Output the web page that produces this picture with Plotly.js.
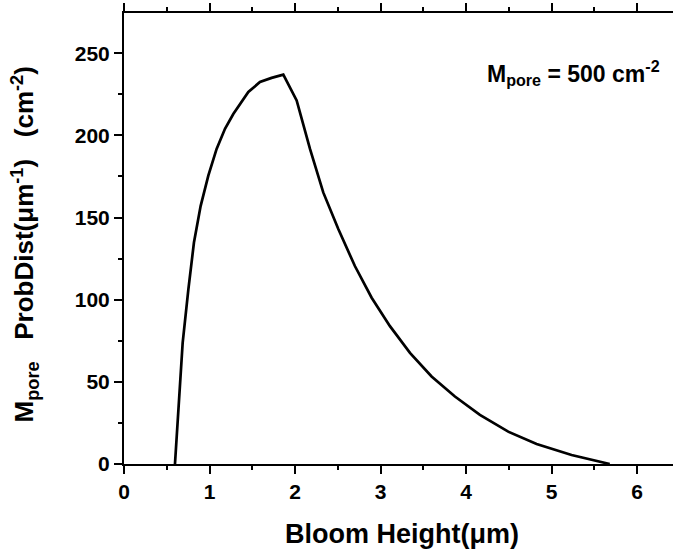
<!DOCTYPE html>
<html>
<head>
<meta charset="utf-8">
<script src="https://cdn.plot.ly/plotly-3.0.1.min.js"></script>
<style>html,body{margin:0;padding:0;background:#fff;}#chart{width:673px;height:550px;}</style>
</head>
<body>
<div id="chart"></div>
<script>
// Bloom height (µm)
const bloomHeight = [0.596, 0.686, 0.752, 0.818, 0.896, 0.986, 1.083, 1.181, 1.278, 1.454, 1.59, 1.726, 1.863,
  2.019, 2.175, 2.33, 2.506, 2.70, 2.896, 3.11, 3.344, 3.597, 3.87, 4.162, 4.493, 4.825, 5.234, 5.68];
// M_pore * ProbDist (µm^-1 cm^-2)
const probDist = [0, 73.7, 106, 134.8, 157, 175.5, 191.8, 204, 213, 226.4, 232.5, 235, 237,
  221.3, 191.8, 165.3, 143, 120.5, 101.2, 83.9, 67.6, 53.3, 41.1, 29.9, 19.7, 12.2, 5.5, 0];
const xTickVals = [0, 1, 2, 3, 4, 5, 6];
const yTickVals = [0, 50, 100, 150, 200, 250];
const annotationText = "<b>M<sub>pore</sub> = 500 cm<sup>-2</sup></b>";
const xTitle = "<b>Bloom Height(μm)</b>";
const yTitle = "<b>M<sub>pore</sub>   ProbDist(μm<sup>-1</sup>)   (cm<sup>-2</sup>)</b>";

const FONT = "Liberation Sans, Arial, sans-serif";

const trace = {
  x: bloomHeight, y: probDist, type: "scatter", mode: "lines",
  line: {color: "#000", width: 2.7}, hoverinfo: "skip"
};

const layout = {
  width: 673, height: 550,
  margin: {l: 124, r: 0, t: 13, b: 86},
  paper_bgcolor: "#fff", plot_bgcolor: "#fff",
  showlegend: false,
  font: {family: FONT, color: "#000"},
  xaxis: {
    range: [0, 6.42], showgrid: false, zeroline: false,
    showline: true, linecolor: "#000", linewidth: 2, mirror: "ticks",
    ticks: "outside", ticklen: 8, tickwidth: 2, tickcolor: "#000",
    tickvals: xTickVals,
    tickfont: {family: FONT, size: 21, color: "#000", weight: "bold"},
    minor: {dtick: 0.5, ticks: "outside", ticklen: 4, tickwidth: 2, tickcolor: "#000", showgrid: false}
  },
  yaxis: {
    range: [0, 274.5], showgrid: false, zeroline: false,
    showline: true, linecolor: "#000", linewidth: 2, mirror: false,
    ticks: "outside", ticklen: 8, tickwidth: 2, tickcolor: "#000",
    tickvals: yTickVals,
    tickfont: {family: FONT, size: 21, color: "#000", weight: "bold"},
    minor: {dtick: 25, ticks: "outside", ticklen: 4, tickwidth: 2, tickcolor: "#000", showgrid: false}
  },
  annotations: [
    {
      text: annotationText, xref: "paper", yref: "paper", x: 0.98, y: 0.868,
      xanchor: "right", yanchor: "middle", showarrow: false,
      font: {family: FONT, size: 23, color: "#000"}
    },
    {
      text: xTitle, xref: "paper", yref: "paper", x: 0.506, y: -0.155,
      xanchor: "center", yanchor: "middle", showarrow: false,
      font: {family: FONT, size: 27, color: "#000"}
    },
    {
      text: yTitle, xref: "paper", yref: "paper", x: -0.1803, y: 0.4867,
      xanchor: "center", yanchor: "middle", showarrow: false, textangle: -90,
      font: {family: FONT, size: 26, color: "#000"}
    }
  ]
};

Plotly.newPlot("chart", [trace], layout, {displayModeBar: false, staticPlot: true});
</script>
</body>
</html>
